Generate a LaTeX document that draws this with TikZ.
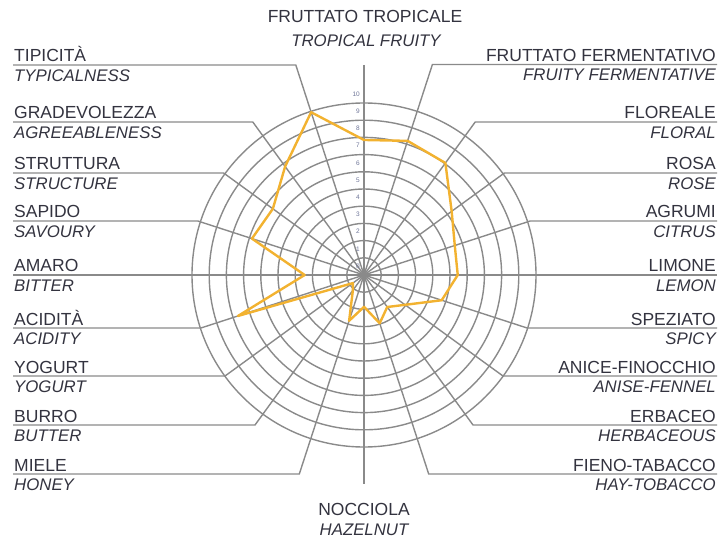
\documentclass[tikz,border=0pt]{standalone}
\usepackage{fontspec}
\setmainfont{Liberation Sans}
\usetikzlibrary{calc}
\definecolor{gridgray}{HTML}{8A8A8A}
\definecolor{txt}{HTML}{33333F}
\definecolor{numc}{HTML}{6E7598}
\definecolor{curve}{HTML}{F2B230}
\begin{document}
\begin{tikzpicture}[x=1pt,y=-1pt,
  grid/.style={draw=gridgray,line width=1.4pt},
  ita/.style={font=\fontsize{17.5}{20}\selectfont, text=txt, inner sep=0pt},
  eng/.style={font=\fontsize{16.8}{20}\selectfont\itshape, text=txt, inner sep=0pt},
  numlab/.style={font=\fontsize{6.5}{7}\selectfont, text=numc, inner sep=0pt, anchor=east},
  datapoly/.style={draw=curve,line width=2.4pt,line join=round}]
\useasboundingbox (0,0) rectangle (718,540);
\coordinate (C) at (364,275);
% rings
\foreach \i in {1,...,10} \draw[grid] (C) circle[radius={17.2pt*\i}];
% spokes with leader lines
\foreach \a/\bx/\by/\ex in {18/432.4/64.5/717, 36/475.2/122/717, 54/504.4/173/717, 72/530.2/221/717,
  108/527.1/328/717, 126/503/376/717, 144/473/425/717, 162/428.7/474/717,
  198/299.3/474/13, 216/255/425/13, 234/225/376/13, 252/200.9/328/13,
  288/197.8/221/13, 306/223.6/173/13, 324/252.8/122/13, 342/295.8/65/13}{
  \coordinate (b\a) at (\bx,\by);
  \coordinate (e\a) at (\ex,\by);
  \draw[grid] (C) -- (b\a) -- (e\a);
}
\coordinate (e0) at (364,65);
\coordinate (e90) at (717,275);
\coordinate (e180) at (364,484);
\coordinate (e270) at (13,275);
\draw[grid] (e0) -- (C) -- (e180);
\draw[grid] (e270) -- (C) -- (e90);
% scale numbers
\foreach \i in {0,...,10} \node[numlab] (n\i) at (360,{266-17.2*\i}) {\i};
% data polygon
\foreach \a/\v [count=\k] in {0/7.85, 18/8.2, 36/8.05, 54/6.3, 72/5.55, 90/5.45, 108/4.75, 126/2.95,
  144/2.3, 162/2.95, 180/1.85, 198/2.8, 216/1.1, 234/0.8, 252/7.7, 270/3.45, 288/6.85,
  306/6.55, 324/7.8, 342/9.95}
  \coordinate (p\k) at ({364+17.2*\v*sin(\a)},{275-17.2*\v*cos(\a)});
\draw[datapoly] (p1) \foreach \k in {2,...,20}{ -- (p\k)} -- cycle;
% top / bottom labels
\node[ita,anchor=base] (tI) at (365,22.5) {FRUTTATO TROPICALE};
\node[eng,anchor=base] (tE) at (366,46.5) {TROPICAL FRUITY};
\node[ita,anchor=base] (bI) at (364,515) {NOCCIOLA};
\node[eng,anchor=base] (bE) at (364,535) {HAZELNUT};
% right labels
\foreach \y/\it/\en [count=\k] in {64.5/FRUTTATO FERMENTATIVO/FRUITY FERMENTATIVE, 122/FLOREALE/FLORAL,
  173/ROSA/ROSE, 221/AGRUMI/CITRUS, 275/LIMONE/LEMON, 328/SPEZIATO/SPICY,
  376/ANICE-FINOCCHIO/ANISE-FENNEL, 425/ERBACEO/HERBACEOUS, 474/FIENO-TABACCO/HAY-TOBACCO}{
  \node[ita,anchor=base east] (rI\k) at (716,\y-3) {\it};
  \node[eng,anchor=base east] (rE\k) at (716,\y+16.5) {\en};
}
% left labels
\foreach \y/\it/\en [count=\k] in {65/TIPICITÀ/TYPICALNESS, 122/GRADEVOLEZZA/AGREEABLENESS,
  173/STRUTTURA/STRUCTURE, 221/SAPIDO/SAVOURY, 275/AMARO/BITTER, 328/ACIDITÀ/ACIDITY,
  376/YOGURT/YOGURT, 425/BURRO/BUTTER, 474/MIELE/HONEY}{
  \node[ita,anchor=base west] (lI\k) at (14,\y-3) {\it};
  \node[eng,anchor=base west] (lE\k) at (14,\y+16.5) {\en};
}
\end{tikzpicture}
\end{document}
